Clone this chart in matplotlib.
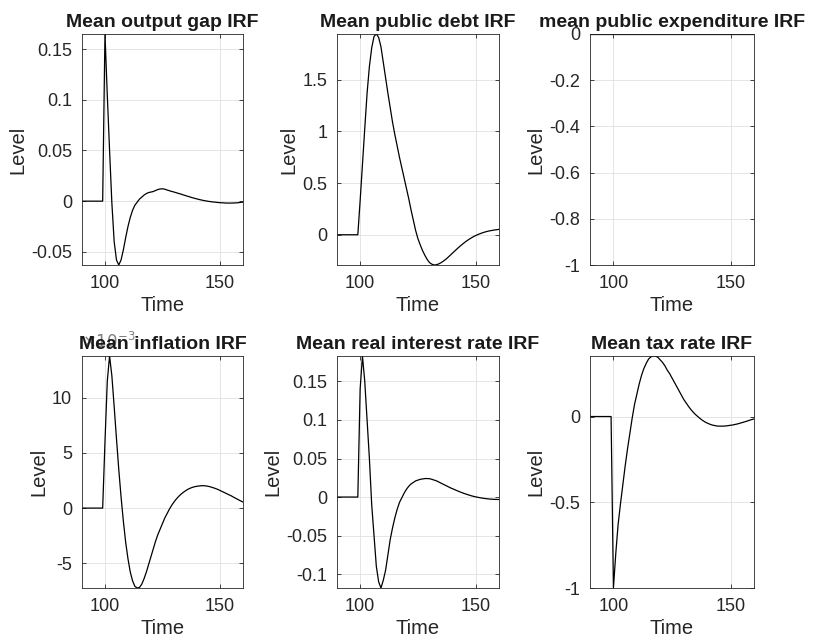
import numpy as np
import matplotlib
matplotlib.use("Agg")
import matplotlib.pyplot as plt
from matplotlib.ticker import FuncFormatter

plt.rcParams['font.family'] = ['Liberation Sans', 'DejaVu Sans']
plt.rcParams['axes.unicode_minus'] = False

# time axis (simulation periods)
time = np.arange(90, 161)

# Mean IRFs (shock hits at t = 100)
output_gap = [0, 0, 0, 0, 0, 0, 0, 0, 0, 0,
              0.165, 0.105, 0.050, -0.002, -0.040, -0.058, -0.063, -0.058, -0.048, -0.036,
              -0.025, -0.016, -0.009, -0.004, -0.001, 0.002, 0.004, 0.006, 0.0075, 0.0085,
              0.009, 0.0095, 0.0105, 0.0115, 0.012, 0.0122, 0.0118, 0.011, 0.0103, 0.0096,
              0.009, 0.0083, 0.0076, 0.007, 0.0062, 0.0055, 0.0048, 0.0041, 0.0034, 0.0028,
              0.0022, 0.0016, 0.0011, 0.0006, 0.0002, -0.0002, -0.0005, -0.0008, -0.001, -0.0013,
              -0.0015, -0.0016, -0.0018, -0.0019, -0.0019, -0.0019, -0.0018, -0.0017, -0.0015, -0.0012,
              -0.001]

public_debt = [0, 0, 0, 0, 0, 0, 0, 0, 0, 0,
               0.33, 0.68, 1.03, 1.37, 1.63, 1.81, 1.92, 1.945, 1.91, 1.82,
               1.67, 1.52, 1.37, 1.23, 1.09, 0.97, 0.86, 0.75, 0.65, 0.55,
               0.45, 0.35, 0.24, 0.14, 0.04, -0.04, -0.10, -0.155, -0.20, -0.24,
               -0.27, -0.285, -0.293, -0.29, -0.282, -0.27, -0.255, -0.238, -0.218, -0.197,
               -0.176, -0.155, -0.134, -0.114, -0.095, -0.077, -0.06, -0.045, -0.031, -0.018,
               -0.007, 0.003, 0.012, 0.02, 0.027, 0.033, 0.038, 0.042, 0.046, 0.049,
               0.052]

public_expenditure = [0] * 71

inflation = [0, 0, 0, 0, 0, 0, 0, 0, 0, 0,
             6.0, 11.5, 13.8, 12.0, 9.2, 6.3, 3.5, 1.0, -1.2, -3.1,
             -4.6, -5.8, -6.6, -7.1, -7.25, -7.2, -6.9, -6.4, -5.8, -5.1,
             -4.4, -3.7, -3.0, -2.4, -1.9, -1.4, -0.9, -0.5, -0.1, 0.25,
             0.55, 0.82, 1.05, 1.25, 1.42, 1.57, 1.7, 1.8, 1.88, 1.94,
             1.98, 2.01, 2.03, 2.03, 2.01, 1.97, 1.92, 1.85, 1.78, 1.7,
             1.6, 1.5, 1.4, 1.3, 1.2, 1.1, 0.98, 0.87, 0.76, 0.65,
             0.55]
inflation = [v * 1e-3 for v in inflation]

real_rate = [0, 0, 0, 0, 0, 0, 0, 0, 0, 0,
             0.14, 0.183, 0.15, 0.10, 0.05, -0.01, -0.05, -0.09, -0.11, -0.118,
             -0.108, -0.095, -0.075, -0.055, -0.04, -0.027, -0.016, -0.007, -0.001, 0.005,
             0.01, 0.014, 0.017, 0.019, 0.021, 0.022, 0.023, 0.0235, 0.024, 0.024,
             0.0238, 0.023, 0.022, 0.021, 0.0195, 0.018, 0.0165, 0.015, 0.0135, 0.012,
             0.0107, 0.0094, 0.0081, 0.0069, 0.0057, 0.0046, 0.0036, 0.0026, 0.0017, 0.0009,
             0.0002, -0.0004, -0.001, -0.0015, -0.0019, -0.0023, -0.0026, -0.0028, -0.003, -0.0031,
             -0.0032]

tax_rate = [0, 0, 0, 0, 0, 0, 0, 0, 0, 0,
            -1.0, -0.80, -0.63, -0.51, -0.40, -0.29, -0.19, -0.10, -0.01, 0.07,
            0.13, 0.19, 0.24, 0.28, 0.31, 0.335, 0.348, 0.353, 0.352, 0.345,
            0.33, 0.315, 0.295, 0.27, 0.25, 0.225, 0.2, 0.175, 0.15, 0.125,
            0.10, 0.08, 0.06, 0.042, 0.026, 0.012, 0.0, -0.012, -0.022, -0.031,
            -0.038, -0.044, -0.049, -0.052, -0.055, -0.056, -0.056, -0.056, -0.055, -0.053,
            -0.051, -0.049, -0.046, -0.043, -0.039, -0.035, -0.031, -0.027, -0.022, -0.018,
            -0.014]

titles = ['Mean output gap IRF', 'Mean public debt IRF', 'mean public expenditure IRF',
          'Mean inflation IRF', 'Mean real interest rate IRF', 'Mean tax rate IRF']
series = [output_gap, public_debt, public_expenditure, inflation, real_rate, tax_rate]
yticks = [[-0.05, 0, 0.05, 0.1, 0.15],
          [0, 0.5, 1, 1.5],
          [-1, -0.8, -0.6, -0.4, -0.2, 0],
          [-0.005, 0, 0.005, 0.01],
          [-0.1, -0.05, 0, 0.05, 0.1, 0.15],
          [-1, -0.5, 0]]

# axes boxes in figure fractions (MATLAB subplot(2,3,k) look)
lefts = [0.1007, 0.414, 0.7248]
widths = [0.1978, 0.199, 0.2015]
bottoms = [0.5872, 0.0841]
heights = [0.360, 0.3614]

fig = plt.figure(figsize=(8.14, 6.42), dpi=100)
txt = '#262626'

for k in range(6):
    r, c = divmod(k, 3)
    ax = fig.add_axes([lefts[c], bottoms[r], widths[c], heights[r]])
    ax.plot(time, series[k], color='k', lw=0.9)
    ax.set_xlim(90, 160)
    if k == 2:
        ax.set_ylim(-1, 0)
    else:
        ax.set_ylim(min(series[k]), max(series[k]))
    ax.set_xticks([100, 150])
    ax.set_yticks(yticks[k])
    if k == 3:
        # MATLAB-style exponent label, tucked under the title
        ax.yaxis.set_major_formatter(FuncFormatter(lambda v, p: f'{v * 1e3:g}'))
        ax.text(0.0, 1.02, r'$\times10^{-3}$', transform=ax.transAxes,
                fontsize=12, color='#808080', ha='left', va='bottom', zorder=0)
    else:
        ax.set_yticklabels([f'{v:g}' for v in yticks[k]])
    ax.grid(True, color='#e0e0e0', lw=0.6)
    ax.set_axisbelow(True)
    ax.tick_params(direction='in', top=True, right=True, length=3, width=0.6,
                   labelsize=13, colors=txt, pad=7)
    for sp in ax.spines.values():
        sp.set_color(txt)
        sp.set_linewidth(0.6)
    ax.set_title(titles[k], fontsize=14, fontweight='bold', color='#1a1a1a', pad=5, y=1.0)
    ax.set_xlabel('Time', fontsize=14.5, color=txt, labelpad=3)
    ax.set_ylabel('Level', fontsize=14.5, color=txt, labelpad=3)

fig.savefig('out.png', dpi=100)
